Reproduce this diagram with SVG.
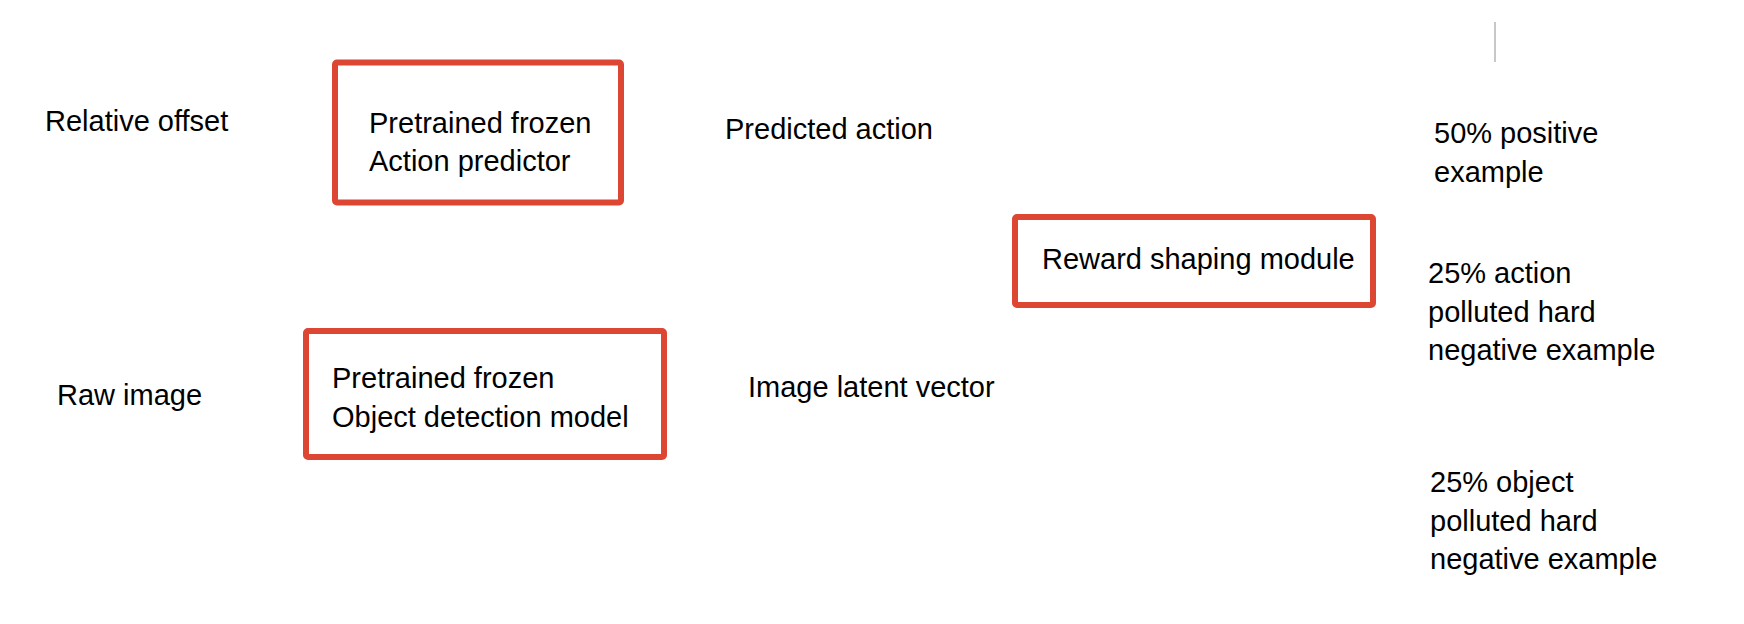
<svg xmlns="http://www.w3.org/2000/svg" width="1744" height="624" viewBox="0 0 1744 624">
<style>
  .t { font-family: "Liberation Sans", Arial, sans-serif; font-size: 29px; fill: #000; }
  .box { fill: none; stroke: #DC4632; stroke-width: 6; }
</style>
<rect x="0" y="0" width="1744" height="624" fill="#fff"/>
<g id="connectors"></g>
<g id="relative-offset"><text class="t" x="45" y="131">Relative offset</text></g>
<g id="action-predictor">
  <rect class="box" x="335" y="62.5" width="286" height="140" rx="2"/>
  <text class="t" x="369" y="133">Pretrained frozen</text>
  <text class="t" x="369" y="171">Action predictor</text>
</g>
<g id="predicted-action"><text class="t" x="725" y="139">Predicted action</text></g>
<g id="reward-shaping">
  <rect class="box" x="1015" y="217" width="358" height="88" rx="2"/>
  <text class="t" x="1042" y="269">Reward shaping module</text>
</g>
<g id="positive"><text class="t" x="1434" y="143">50% positive</text><text class="t" x="1434" y="182">example</text></g>
<g id="action-polluted"><text class="t" x="1428" y="283">25% action</text><text class="t" x="1428" y="322">polluted hard</text><text class="t" x="1428" y="360">negative example</text></g>
<g id="object-polluted"><text class="t" x="1430" y="492">25% object</text><text class="t" x="1430" y="531">polluted hard</text><text class="t" x="1430" y="569">negative example</text></g>
<g id="raw-image"><text class="t" x="57" y="405">Raw image</text></g>
<g id="object-detection">
  <rect class="box" x="306" y="331" width="358" height="126" rx="2"/>
  <text class="t" x="332" y="388">Pretrained frozen</text>
  <text class="t" x="332" y="427">Object detection model</text>
</g>
<g id="image-latent"><text class="t" x="748" y="397">Image latent vector</text></g>
<line x1="1495" y1="22" x2="1495" y2="62" stroke="#C8C8C8" stroke-width="2"/>
</svg>
